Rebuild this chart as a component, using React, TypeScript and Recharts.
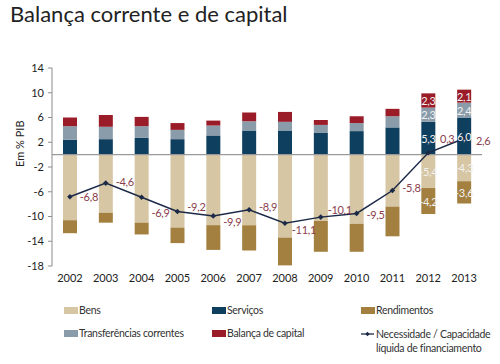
import { ComposedChart, Bar, Line, XAxis, YAxis, ReferenceLine, LabelList } from 'recharts'

const years = ['2002', '2003', '2004', '2005', '2006', '2007', '2008', '2009', '2010', '2011', '2012', '2013']
const bens = [-10.6, -9.4, -11.0, -11.8, -11.4, -11.4, -13.4, -10.7, -11.2, -8.4, -5.4, -4.3]
const servicos = [2.4, 2.5, 2.7, 2.5, 3.1, 3.9, 3.9, 3.5, 3.8, 4.4, 5.3, 6.0]
const rendimentos = [-2.1, -1.6, -1.9, -2.5, -4.0, -4.1, -4.5, -5.0, -4.5, -4.8, -4.2, -3.6]
const transferencias = [2.2, 2.0, 1.9, 1.5, 1.6, 1.5, 1.4, 1.3, 1.3, 1.8, 2.3, 2.4]
const capital = [1.4, 1.9, 1.5, 1.1, 0.8, 1.4, 1.6, 0.8, 1.1, 1.2, 2.3, 2.1]
const necessidade = [-6.8, -4.6, -6.9, -9.2, -9.9, -8.9, -11.1, -10.1, -9.5, -5.8, 0.3, 2.6]
const yTicks = [14, 10, 6, 2, -2, -6, -10, -14, -18]
// years whose bar segments carry value labels
const labelledYears = ['2012', '2013']

// vertical nudges for the line labels (placed by hand in the original)
const lineLabelDy = [0, -2, 15, -5, 6, -3, 6, -8, 1, -3, -14, 2]

const data = years.map((year, i) => ({
  year,
  bens: bens[i],
  servicos: servicos[i],
  rendimentos: rendimentos[i],
  transferencias: transferencias[i],
  capital: capital[i],
  necessidade: necessidade[i],
}))

const FONT = 'Lato, "Open Sans", sans-serif'
const fmt = (v: number) => v.toFixed(1).replace('.', ',')

const colors = {
  bens: '#d6c6a3',
  servicos: '#0f3f5e',
  rendimentos: '#a3803f',
  transferencias: '#8a9ca9',
  capital: '#9a1c28',
  line: '#1c2a48',
  lineLabel: '#8a3d4c',
}

const BarValue = (props: any) => {
  const { x, y, width, height, value, index } = props
  if (!labelledYears.includes(years[index])) return null
  return (
    <text
      x={x + width / 2}
      y={y + height / 2}
      textAnchor="middle"
      dominantBaseline="central"
      fill="#f2f2f2"
      fontSize={11}
      letterSpacing={-0.3}
      fontFamily={FONT}
    >
      {fmt(value)}
    </text>
  )
}

const LineValue = (props: any) => {
  const { x, y, value, index } = props
  return (
    <text
      x={x + 19}
      y={y + lineLabelDy[index]}
      textAnchor="middle"
      dominantBaseline="central"
      fill={colors.lineLabel}
      fontSize={11}
      letterSpacing={-0.3}
      fontFamily={FONT}
    >
      {fmt(value)}
    </text>
  )
}

const Diamond = (props: any) => {
  const { cx, cy } = props
  if (cx == null || cy == null) return null
  return <path d={`M${cx},${cy - 2.8}L${cx + 2.8},${cy}L${cx},${cy + 2.8}L${cx - 2.8},${cy}Z`} fill={colors.line} />
}

const legendItems = [
  { name: 'Bens', color: colors.bens, x: 64, y: 304 },
  { name: 'Serviços', color: colors.servicos, x: 212, y: 304 },
  { name: 'Rendimentos', color: colors.rendimentos, x: 361, y: 304 },
  { name: 'Transferências correntes', color: colors.transferencias, x: 64, y: 327 },
  { name: 'Balança de capital', color: colors.capital, x: 212, y: 327 },
]

const legendText = { fontSize: 10.5, letterSpacing: -0.3, color: '#333', whiteSpace: 'nowrap' as const }

export default function App() {
  return (
    <div style={{ position: 'absolute', left: 0, top: 0, width: 500, height: 364, background: '#fff', fontFamily: FONT }}>
      <div style={{ position: 'absolute', left: 10, top: 0, fontSize: 22, color: '#222', whiteSpace: 'nowrap' }}>
        Balança corrente e de capital
      </div>

      <ComposedChart
        width={500}
        height={364}
        data={data}
        stackOffset="sign"
        margin={{ top: 68, right: 18, bottom: 73, left: 0 }}
        barSize={14}
      >
        <XAxis
          dataKey="year"
          axisLine={false}
          tickLine={false}
          height={25}
          tick={{ fill: '#222', fontSize: 11, fontFamily: FONT }}
        />
        <YAxis
          domain={[-18, 14]}
          ticks={yTicks}
          width={52}
          stroke="#8c8c8c"
          tickSize={4}
          tickMargin={4}
          tick={{ fill: '#222', fontSize: 11, fontFamily: FONT }}
          label={{ value: 'Em % PIB', angle: -90, position: 'insideLeft', offset: 20, fill: '#222', fontSize: 11, fontFamily: FONT }}
        />
        <ReferenceLine y={0} stroke="#9a9a9a" strokeWidth={1.2} />
        <Bar dataKey="bens" stackId="a" fill={colors.bens} isAnimationActive={false}>
          <LabelList dataKey="bens" content={BarValue} />
        </Bar>
        <Bar dataKey="servicos" stackId="a" fill={colors.servicos} isAnimationActive={false}>
          <LabelList dataKey="servicos" content={BarValue} />
        </Bar>
        <Bar dataKey="rendimentos" stackId="a" fill={colors.rendimentos} isAnimationActive={false}>
          <LabelList dataKey="rendimentos" content={BarValue} />
        </Bar>
        <Bar dataKey="transferencias" stackId="a" fill={colors.transferencias} isAnimationActive={false}>
          <LabelList dataKey="transferencias" content={BarValue} />
        </Bar>
        <Bar dataKey="capital" stackId="a" fill={colors.capital} isAnimationActive={false}>
          <LabelList dataKey="capital" content={BarValue} />
        </Bar>
        <Line
          dataKey="necessidade"
          stroke={colors.line}
          strokeWidth={1.5}
          dot={<Diamond />}
          activeDot={false}
          isAnimationActive={false}
        >
          <LabelList dataKey="necessidade" content={LineValue} />
        </Line>
      </ComposedChart>

      {legendItems.map((it) => (
        <div key={it.name} style={{ position: 'absolute', left: it.x, top: it.y, display: 'flex', alignItems: 'center', ...legendText }}>
          <span style={{ display: 'inline-block', width: 14, height: 7, background: it.color, marginRight: 1 }} />
          {it.name}
        </div>
      ))}
      <div style={{ position: 'absolute', left: 361, top: 327, display: 'flex', alignItems: 'flex-start', lineHeight: '14px', ...legendText }}>
        <svg width={14} height={14} style={{ marginRight: 1, flexShrink: 0 }}>
          <line x1={0} y1={7} x2={13} y2={7} stroke={colors.line} strokeWidth={1.3} />
          <path d="M6.5,4.8L8.7,7L6.5,9.2L4.3,7Z" fill={colors.line} />
        </svg>
        <div>
          Necessidade / Capacidade
          <br />
          líquida de financiamento
        </div>
      </div>
    </div>
  )
}
